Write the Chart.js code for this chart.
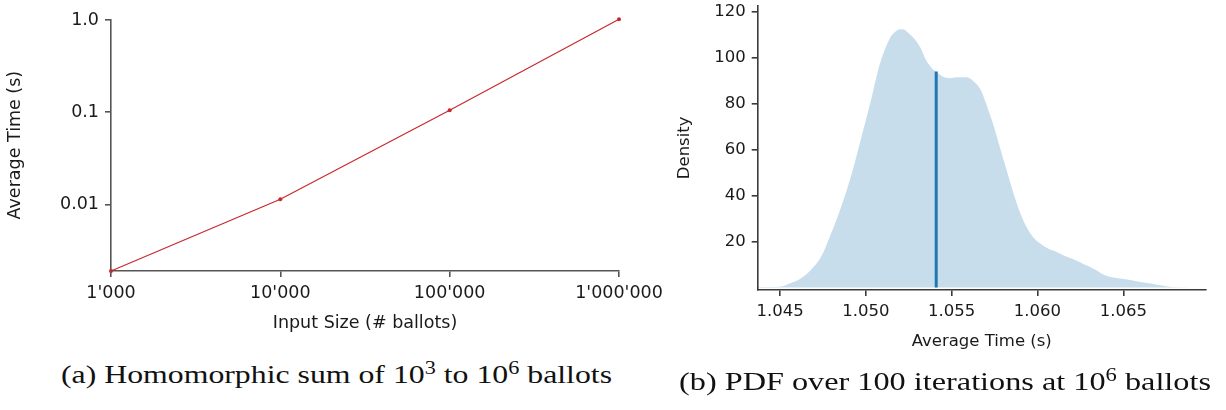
<!DOCTYPE html>
<html lang="en">
<head>
<meta charset="UTF-8">
<title>Homomorphic sum timing</title>
<script src="https://cdn.jsdelivr.net/npm/chart.js"></script>
<style>
  body { margin: 0; background: #fff; width: 1226px; height: 410px; position: relative; overflow: hidden; }
  .panel { position: absolute; }
  .caption { position: absolute; font-family: "Liberation Serif", serif; font-size: 25.5px; line-height: 1; white-space: nowrap; color: #111; transform-origin: 0 0; }
  .caption sup { font-size: 0.7em; position: relative; top: -0.5em; vertical-align: baseline; line-height: 0; }
</style>
</head>
<body>
<div class="panel" style="left:0;top:-10px"><canvas id="sumChart" width="690" height="355"></canvas></div>
<div class="panel" style="left:640px;top:-20px"><canvas id="pdfChart" width="586" height="380"></canvas></div>
<div class="caption" data-width="551" style="left:61px;top:361.5px">(a) Homomorphic sum of 10<sup>3</sup> to 10<sup>6</sup> ballots</div>
<div class="caption" data-width="532" style="left:679px;top:368.5px">(b) PDF over 100 iterations at 10<sup>6</sup> ballots</div>

<script>
// (a) average time per input size
const ballotCounts = [1000, 10000, 100000, 1000000];
const avgTimes = [0.0019, 0.0114, 0.105, 1.017];
const sizeTicks = [1000, 10000, 100000, 1000000];
const sizeTickLabels = ["1'000", "10'000", "100'000", "1'000'000"];
const timeTicks = [0.01, 0.1, 1.0];
const timeTickLabels = ['0.01', '0.1', '1.0'];

// (b) density of the average time at 10^6 ballots
const pdfTimes = [1.0437, 1.0444, 1.0450, 1.0456, 1.0462, 1.0468, 1.0474, 1.0479, 1.0485, 1.0491,
  1.0497, 1.0503, 1.0508, 1.0514, 1.0517, 1.0520, 1.0522, 1.0524, 1.0528, 1.0532, 1.0535, 1.0539,
  1.0541, 1.0545, 1.0549, 1.0553, 1.0559, 1.0563, 1.0567, 1.0570, 1.0574, 1.0578,
  1.0582, 1.0586, 1.0590, 1.0594, 1.0598, 1.0602, 1.0607, 1.0610, 1.0616, 1.0622,
  1.0628, 1.0634, 1.0639, 1.0645, 1.0651, 1.0657, 1.0663, 1.0669, 1.0674, 1.0682, 1.0698];
const pdfDensity = [0.2, 0.3, 0.4, 1.9, 4.0, 7.7, 13.5, 22.2, 33.8, 47.6,
  64.3, 81.7, 97.0, 108.6, 111.3, 112.5, 112.4, 111.5, 108.6, 104.3, 99.2, 95.1,
  94.0, 91.8, 91.2, 91.6, 91.6, 89.7, 86.1, 80.3, 71.6, 61.4,
  51.2, 41.1, 32.4, 25.8, 21.5, 19.0, 16.7, 15.9, 13.8, 12.0,
  9.8, 7.7, 5.5, 4.3, 3.6, 2.9, 2.1, 1.4, 0.7, 0.1, 0.0];
const medianTime = 1.0541;
const medianDensity = 94.1;
const pdfXTicks = [1.045, 1.050, 1.055, 1.060, 1.065];
const pdfYTicks = [20, 40, 60, 80, 100, 120];

function axisStyle(color, size) {
  return {
    grid: { display: true, drawOnChartArea: false, drawTicks: true, tickLength: 6, color: color, lineWidth: 1.6 },
    border: { display: true, color: color, width: 1.6 },
    ticks: { padding: 6, color: '#1a1a1a', font: { family: 'DejaVu Sans', size: size } }
  };
}

const sumX = axisStyle('#555555', 17.5);
const sumY = axisStyle('#555555', 17.5);

new Chart(document.getElementById('sumChart'), {
  type: 'line',
  data: {
    datasets: [{
      data: ballotCounts.map((n, i) => ({ x: n, y: avgTimes[i] })),
      borderColor: '#c8282d',
      backgroundColor: '#c8282d',
      borderWidth: 1.2,
      pointRadius: 2,
      pointBorderWidth: 0,
      tension: 0,
      clip: false
    }]
  },
  options: {
    responsive: false,
    animation: false,
    layout: { padding: { top: 29.3, right: 71, bottom: 0, left: 0 } },
    plugins: { legend: { display: false }, tooltip: { enabled: false } },
    scales: {
      x: {
        type: 'logarithmic',
        min: 1000,
        max: 1000000,
        ...sumX,
        ticks: { ...sumX.ticks, callback: (v, i) => sizeTickLabels[i] },
        afterBuildTicks: s => { s.ticks = sizeTicks.map(v => ({ value: v })); },
        afterFit: s => { s.height = 74; },
        title: { display: true, text: 'Input Size (# ballots)', color: '#1a1a1a',
          font: { family: 'DejaVu Sans', size: 17.5 }, padding: { top: 0, bottom: 10.9 } }
      },
      y: {
        type: 'logarithmic',
        min: 0.0019,
        max: 1.017,
        ...sumY,
        ticks: { ...sumY.ticks, callback: (v, i) => timeTickLabels[i] },
        afterBuildTicks: s => { s.ticks = timeTicks.map(v => ({ value: v })); },
        afterFit: s => { s.width = 111; },
        title: { display: true, text: 'Average Time (s)', color: '#1a1a1a',
          font: { family: 'DejaVu Sans', size: 17.5 }, padding: { top: 4.5, bottom: 0 } }
      }
    }
  }
});

const pdfX = axisStyle('#3a3a3a', 16.5);
const pdfY = axisStyle('#3a3a3a', 16.5);

new Chart(document.getElementById('pdfChart'), {
  type: 'line',
  data: {
    datasets: [{
      data: pdfTimes.map((t, i) => ({ x: t, y: pdfDensity[i] })),
      borderWidth: 0,
      pointRadius: 0,
      fill: 'origin',
      backgroundColor: 'rgba(31,119,180,0.25)',
      cubicInterpolationMode: 'monotone'
    }, {
      data: [{ x: medianTime, y: 0 }, { x: medianTime, y: medianDensity }],
      borderColor: '#1f77b4',
      borderWidth: 3,
      pointRadius: 0,
      fill: false
    }]
  },
  options: {
    responsive: false,
    animation: false,
    layout: { padding: { top: 25.7, right: 20.3, bottom: 0, left: 0 } },
    plugins: { legend: { display: false }, tooltip: { enabled: false } },
    scales: {
      x: {
        type: 'linear',
        min: 1.0437,
        max: 1.0698,
        ...pdfX,
        ticks: { ...pdfX.ticks, callback: v => v.toFixed(3) },
        afterBuildTicks: s => { s.ticks = pdfXTicks.map(v => ({ value: v })); },
        afterFit: s => { s.height = 70; },
        title: { display: true, text: 'Average Time (s)', color: '#1a1a1a',
          font: { family: 'DejaVu Sans', size: 16.5 }, padding: { top: 0, bottom: 8.1 } }
      },
      y: {
        type: 'linear',
        min: -1.05,
        max: 122.8,
        ...pdfY,
        ticks: { ...pdfY.ticks, callback: v => String(v) },
        afterBuildTicks: s => { s.ticks = pdfYTicks.map(v => ({ value: v })); },
        afterFit: s => { s.width = 117.7; },
        title: { display: true, text: 'Density', color: '#1a1a1a',
          font: { family: 'DejaVu Sans', size: 16.5 }, padding: { top: 35.1, bottom: 0 } }
      }
    }
  }
});

// stretch the captions to the width they have in the figure
document.querySelectorAll('.caption').forEach(el => {
  const w = el.getBoundingClientRect().width;
  el.style.transform = 'scaleX(' + (el.dataset.width / w) + ')';
});
</script>
</body>
</html>
